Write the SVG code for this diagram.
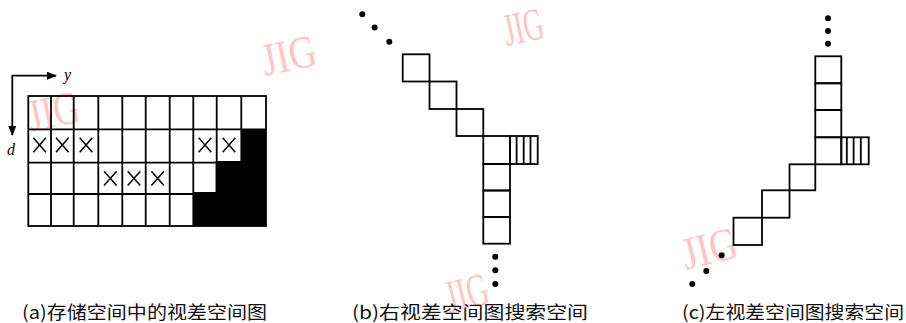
<svg xmlns="http://www.w3.org/2000/svg" width="906" height="323" viewBox="0 0 906 323">
<style>
.wm{font-family:"Liberation Serif",serif;font-size:46px;fill:#ffc4c4;}
.ln{stroke:#000;stroke-width:1.8;fill:none;}
.sq{stroke:#000;stroke-width:1.8;fill:none;}
.xm{stroke:#000;stroke-width:1.5;fill:none;}
.cap{font-family:"Noto Sans CJK SC","Noto Sans",sans-serif;font-size:18px;fill:#111;}
.ax{font-family:"Liberation Serif",serif;font-style:italic;font-size:16px;fill:#000;}
.dot{fill:#000;}
</style>
<defs>
<marker id="arr" markerWidth="10" markerHeight="8" refX="9" refY="4" orient="auto" markerUnits="userSpaceOnUse">
<path d="M0,0 L10,4 L0,8 Z" fill="#000"/>
</marker>
</defs>
<rect width="906" height="323" fill="#fff"/>
<g id="watermarks">
<text class="wm" transform="translate(265,76) rotate(-12)" textLength="55" lengthAdjust="spacingAndGlyphs">JIG</text>
<text class="wm" transform="translate(31,132) rotate(-12)" textLength="52" lengthAdjust="spacingAndGlyphs">JIG</text>
<text class="wm" transform="translate(686,270) rotate(-14)" textLength="56" lengthAdjust="spacingAndGlyphs">JIG</text>
<text class="wm" transform="translate(507,46) rotate(-12)" font-size="30" textLength="40" lengthAdjust="spacingAndGlyphs">JIG</text>
<text class="wm" transform="translate(449,313) rotate(-14)" font-size="34" textLength="44" lengthAdjust="spacingAndGlyphs">JIG</text>
</g>
<g id="panel-a">
<g id="axes">
<line class="ln" x1="12.3" y1="75.7" x2="56" y2="75.7" marker-end="url(#arr)"/>
<line class="ln" x1="12.3" y1="74.8" x2="12.3" y2="135" marker-end="url(#arr)"/>
<text class="ax" x="64" y="80">y</text>
<text class="ax" x="7" y="155">d</text>
</g>
<g id="grid">
<rect class="ln" x="28.3" y="96" width="237.7" height="130"/>
<path class="ln" d="M51,96V226 M73.7,96V226 M98.3,96V226 M122.3,96V226 M145.7,96V226 M169.7,96V226 M193.3,96V226 M216.7,96V226 M241.3,96V226 M28.3,129.3H266 M28.3,162.7H266 M28.3,194H266"/>
<polygon fill="#000" points="241.3,129.3 266,129.3 266,226 193.3,226 193.3,192 215.7,192 215.7,161 241.3,161"/>
</g>
<g id="crosses">
<path class="xm" d="M33.3,137.8l12.6,14.4m0,-14.4l-12.6,14.4"/>
<path class="xm" d="M56,137.8l12.6,14.4m0,-14.4l-12.6,14.4"/>
<path class="xm" d="M79.7,137.8l12.6,14.4m0,-14.4l-12.6,14.4"/>
<path class="xm" d="M198.7,137.8l12.6,14.4m0,-14.4l-12.6,14.4"/>
<path class="xm" d="M222.7,137.8l12.6,14.4m0,-14.4l-12.6,14.4"/>
<path class="xm" d="M104,171.2l12.6,14.4m0,-14.4l-12.6,14.4"/>
<path class="xm" d="M127.7,171.2l12.6,14.4m0,-14.4l-12.6,14.4"/>
<path class="xm" d="M151.4,171.2l12.6,14.4m0,-14.4l-12.6,14.4"/>
</g>
</g>
<g id="panel-b">
<g id="dots-b1">
<circle class="dot" cx="362.3" cy="14.3" r="3"/>
<circle class="dot" cx="374.6" cy="27.5" r="3"/>
<circle class="dot" cx="389.3" cy="41.7" r="3"/>
</g>
<g id="stair-b">
<rect class="sq" x="402.7" y="54.3" width="26.8" height="27.2"/>
<rect class="sq" x="429.5" y="81.5" width="27" height="27.5"/>
<rect class="sq" x="456.5" y="109" width="26.8" height="27"/>
</g>
<g id="column-b">
<rect class="sq" x="483.3" y="136" width="26.7" height="28"/>
<rect class="sq" x="483.3" y="164" width="26.7" height="26.5"/>
<rect class="sq" x="483.3" y="190.5" width="26.7" height="26.5"/>
<rect class="sq" x="483.3" y="217" width="26.7" height="26.7"/>
</g>
<g id="hatch-b">
<rect class="sq" x="510" y="136" width="27.7" height="28"/>
<path class="sq" d="M516.6,136V164 M523.7,136V164 M530.5,136V164"/>
</g>
<g id="dots-b2">
<circle class="dot" cx="495.3" cy="256.7" r="3"/>
<circle class="dot" cx="495.3" cy="270.2" r="3"/>
<circle class="dot" cx="495.3" cy="284" r="3"/>
</g>
</g>
<g id="panel-c">
<g id="dots-c1">
<circle class="dot" cx="828" cy="18.3" r="3"/>
<circle class="dot" cx="828" cy="31" r="3"/>
<circle class="dot" cx="828" cy="43.7" r="3"/>
</g>
<g id="column-c">
<rect class="sq" x="815.3" y="56.3" width="26" height="27"/>
<rect class="sq" x="815.3" y="83.3" width="26" height="26.7"/>
<rect class="sq" x="815.3" y="110" width="26" height="27.3"/>
<rect class="sq" x="815.3" y="137.3" width="26" height="27"/>
</g>
<g id="hatch-c">
<rect class="sq" x="841.3" y="137.3" width="27.4" height="27"/>
<path class="sq" d="M846.8,137.3V164.3 M853.6,137.3V164.3 M860.8,137.3V164.3"/>
</g>
<g id="stair-c">
<rect class="sq" x="789.5" y="164.3" width="25.8" height="26"/>
<rect class="sq" x="762" y="190.3" width="27.5" height="27.4"/>
<rect class="sq" x="733.5" y="217.7" width="28.5" height="27.3"/>
</g>
<g id="dots-c2">
<circle class="dot" cx="721.7" cy="255.3" r="3"/>
<circle class="dot" cx="706.3" cy="271" r="3"/>
<circle class="dot" cx="692.3" cy="284" r="3"/>
</g>
</g>
<g id="captions">
<text class="cap" x="22" y="319" textLength="245" lengthAdjust="spacingAndGlyphs">(a)存储空间中的视差空间图</text>
<text class="cap" x="352" y="319" textLength="236" lengthAdjust="spacingAndGlyphs">(b)右视差空间图搜索空间</text>
<text class="cap" x="682" y="319" textLength="222" lengthAdjust="spacingAndGlyphs">(c)左视差空间图搜索空间</text>
</g>
</svg>
